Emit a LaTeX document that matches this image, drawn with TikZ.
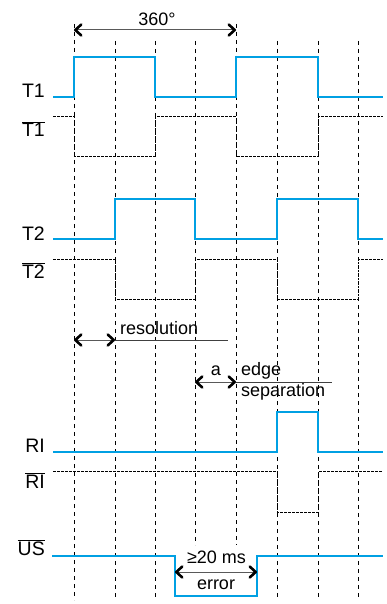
\documentclass[tikz,border=0pt]{standalone}
\usepackage{fontspec}
\setmainfont{Liberation Sans}
\usetikzlibrary{arrows.meta}
\definecolor{sigblue}{RGB}{0,160,227}
\newcommand{\barsig}[1]{$\overline{\mbox{#1}}$}

\begin{document}
\begin{tikzpicture}[x=1pt,y=-1pt,
    signal/.style={line width=2.6pt,color=sigblue,line join=miter},
    inverted/.style={line width=1pt,black,dash pattern=on 2.5pt off 1.5pt},
    gridline/.style={line width=0.9pt,black,dash pattern=on 4pt off 4pt},
    barb/.tip={Straight Barb[black,line width=0pt 2.6,length=6pt,width=11pt,round]},
    dimline/.style={line width=1pt,color=black!65,barb-barb},
    leader/.style={line width=0.9pt,color=black!75},
    siglabel/.style={anchor=base east,inner sep=0pt,font=\fontsize{19.5pt}{19.5pt}\selectfont},
    txt/.style={inner sep=0pt,font=\fontsize{18pt}{18pt}\selectfont}]
  \useasboundingbox (0,0) rectangle (387,604);
  % dashed grid
  \draw [gridline] (74,24) -- (74,600);
  \draw [gridline] (115,41) -- (115,600);
  \draw [gridline] (155,41) -- (155,600);
  \draw [gridline] (195,41) -- (195,545);
  \draw [gridline] (236,24) -- (236,545);
  \draw [gridline] (277,41) -- (277,600);
  \draw [gridline] (318,41) -- (318,600);
  \draw [gridline] (358,41) -- (358,600);
  % 360 degree period
  \coordinate (deg a) at (74,30);
  \coordinate (deg b) at (236,30);
  \draw [dimline] (deg a) -- (deg b);
  \node [txt,anchor=base] (deg) at (157,26) {360°};
  % T1 and inverted T1
  \node [siglabel] (t1 lbl) at (45,98) {T1};
  \draw [signal] (53,97) -- (74,97) -- (74,57) -- (155,57) -- (155,97) -- (236,97) -- (236,57) -- (318,57) -- (318,97) -- (383,97);
  \node [siglabel] (t1n lbl) at (45,137) {\barsig{T1}};
  \draw [inverted] (53,117) -- (74,117) -- (74,157) -- (155,157) -- (155,117) -- (236,117) -- (236,157) -- (318,157) -- (318,117) -- (383,117);
  % T2 and inverted T2
  \node [siglabel] (t2 lbl) at (45,240) {T2};
  \draw [signal] (53,239) -- (115,239) -- (115,199) -- (195,199) -- (195,239) -- (277,239) -- (277,199) -- (358,199) -- (358,239) -- (383,239);
  \node [siglabel] (t2n lbl) at (45,278) {\barsig{T2}};
  \draw [inverted] (53,259) -- (115,259) -- (115,299) -- (195,299) -- (195,259) -- (277,259) -- (277,299) -- (358,299) -- (358,259) -- (383,259);
  % resolution
  \coordinate (res a) at (74,340);
  \coordinate (res b) at (115,340);
  \coordinate (res end) at (228,340);
  \draw [dimline] (res a) -- (res b);
  \draw [leader] (res b) -- (res end);
  \node [txt,anchor=base west] (res) at (120,334) {resolution};
  % edge separation
  \coordinate (sep a) at (195,382);
  \coordinate (sep b) at (236,382);
  \coordinate (sep end) at (332,382);
  \draw [dimline] (sep a) -- (sep b);
  \draw [leader] (sep b) -- (sep end);
  \node [txt,anchor=base] (sep lbl) at (216,375) {a};
  \node [txt,anchor=base west] (edge) at (241,375.5) {edge};
  \node [txt,anchor=base west] (separation) at (241,396.5) {separation};
  % RI and inverted RI
  \node [siglabel] (ri lbl) at (45,452) {RI};
  \draw [signal] (53,452) -- (277,452) -- (277,412) -- (318,412) -- (318,452) -- (383,452);
  \node [siglabel] (rin lbl) at (45,488) {\barsig{RI}};
  \draw [inverted] (53,471) -- (277,471) -- (277,512) -- (318,512) -- (318,471) -- (383,471);
  % inverted US with error pulse
  \node [siglabel] (us lbl) at (45,555) {\barsig{US}};
  \draw [signal] (52,556) -- (175,556) -- (175,596) -- (257,596) -- (257,556) -- (383,556);
  \coordinate (err a) at (175,572);
  \coordinate (err b) at (257,572);
  \draw [dimline] (err a) -- (err b);
  \node [txt,anchor=base] (err time) at (216.5,563) {≥20 ms};
  \node [txt,anchor=base] (err) at (216,589) {error};
\end{tikzpicture}
\end{document}
